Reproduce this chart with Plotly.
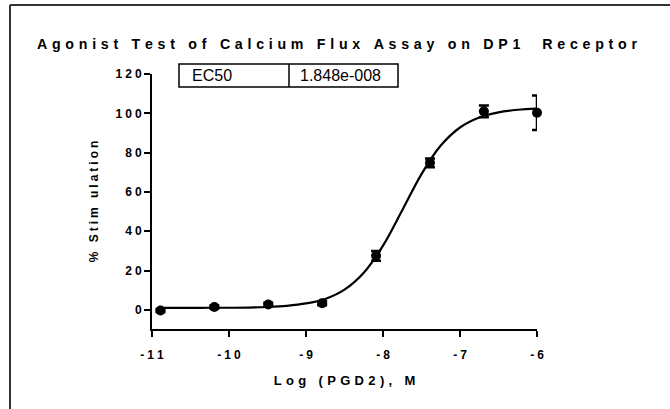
import plotly.graph_objects as go

# ---- data ----
log_conc = [-10.89, -10.19, -9.49, -8.79, -8.09, -7.39, -6.69, -6.00]
stimulation = [-0.3, 1.5, 2.8, 3.4, 27.5, 74.8, 101.0, 100.3]
stim_err = [0.8, 0.8, 0.8, 1.0, 2.5, 2.2, 3.0, 8.8]

curve_x = [-10.89, -10.75, -10.5, -10.25, -10.0, -9.75, -9.5, -9.25, -9.0, -8.75,
           -8.5, -8.25, -8.0, -7.75, -7.5, -7.25, -7.0, -6.75, -6.5, -6.25, -6.0]
curve_y = [1.0, 1.0, 1.0, 1.1, 1.1, 1.2, 1.5, 2.1, 3.3, 5.6,
           10.3, 18.9, 32.7, 50.7, 69.1, 83.6, 92.8, 97.9, 100.5, 101.8, 102.4]

x_ticks = [-11, -10, -9, -8, -7, -6]
y_ticks = [0, 20, 40, 60, 80, 100, 120]

title_text = "Agonist Test of Calcium Flux Assay on DP1  Receptor"
x_title = "Log (PGD2), M"
y_title = "% Stim ulation"
ec50_label = "EC50"
ec50_value = "1.848e-008"


def spaced(s, gap):
    return gap.join(list(s))


FONT = "Arial, 'Liberation Sans', sans-serif"
G_TITLE = "\u2004"          # three-per-em space
G_XT = "\u2004"
G_YT = "\u2005"
G_TICK = "\u2005"

fig = go.Figure()
fig.add_trace(go.Scatter(
    x=curve_x, y=curve_y, mode="lines", line=dict(color="black", width=2.2, shape="spline"),
    hoverinfo="skip", showlegend=False, cliponaxis=False))
fig.add_trace(go.Scatter(
    x=log_conc, y=stimulation, mode="markers", cliponaxis=False,
    marker=dict(color="black", size=10, symbol="circle"),
    error_y=dict(type="data", array=stim_err, color="black", thickness=2.5, width=5),
    showlegend=False))

# plot area in pixels: x 152..537, y 74..329
L, R, T, B = 152, 537, 74, 329
W, H = R - L, B - T


def px(xp):
    return (xp - L) / W


def py(yp):
    return (B - yp) / H


shapes = [
    dict(type="line", xref="paper", yref="paper", x0=px(10), x1=px(672), y0=py(5), y1=py(5),
         line=dict(color="#333333", width=2)),
    dict(type="line", xref="paper", yref="paper", x0=px(10), x1=px(10), y0=py(5), y1=py(412),
         line=dict(color="#333333", width=2)),
    dict(type="rect", xref="paper", yref="paper", x0=px(179), x1=px(398), y0=py(64), y1=py(87),
         line=dict(color="black", width=1.5)),
    dict(type="line", xref="paper", yref="paper", x0=px(289), x1=px(289), y0=py(64), y1=py(87),
         line=dict(color="black", width=1.5)),
]

annotations = [
    dict(text=ec50_label, xref="paper", yref="paper", x=px(190), y=py(75.5), xanchor="left",
         yanchor="middle", showarrow=False, font=dict(family=FONT, size=16, color="black")),
    dict(text=ec50_value, xref="paper", yref="paper", x=px(298), y=py(75.5), xanchor="left",
         yanchor="middle", showarrow=False, font=dict(family=FONT, size=16, color="black")),
]

fig.update_layout(
    width=670, height=409,
    margin=dict(l=L, r=670 - R, t=T, b=409 - B),
    paper_bgcolor="white", plot_bgcolor="white",
    title=dict(text="<b>" + spaced(title_text, G_TITLE) + "</b>", x=(337 / 670), xref="container",
               xanchor="center", y=(409 - 44) / 409, yanchor="middle",
               font=dict(family=FONT, size=14.2, color="black")),
    xaxis=dict(range=[-11, -6], tickvals=x_ticks,
               ticktext=["<b>" + spaced(str(v), G_TICK) + "</b>" for v in x_ticks],
               showgrid=False, zeroline=False, showline=True, linecolor="black", linewidth=2,
               ticks="outside", ticklen=6, tickwidth=2, tickcolor="black",
               ticklabelstandoff=8,
               tickfont=dict(family=FONT, size=12, color="black"),
               title=dict(text="<b>" + spaced(x_title, G_XT) + "</b>", standoff=14,
                          font=dict(family=FONT, size=13, color="black"))),
    yaxis=dict(range=[-9.7, 120], tickvals=y_ticks,
               ticktext=["<b>" + spaced(str(v), G_TICK) + "</b>" for v in y_ticks],
               showgrid=False, zeroline=False, showline=True, linecolor="black", linewidth=2,
               ticks="outside", ticklen=6, tickwidth=2, tickcolor="black",
               tickfont=dict(family=FONT, size=12, color="black"),
               title=dict(text="<b>" + spaced(y_title, G_YT) + "</b>", standoff=14,
                          font=dict(family=FONT, size=12, color="black"))),
    shapes=shapes,
    annotations=annotations,
)

fig.write_html("out.html", config={"displayModeBar": False},
               post_script="document.body.style.margin='0';")
